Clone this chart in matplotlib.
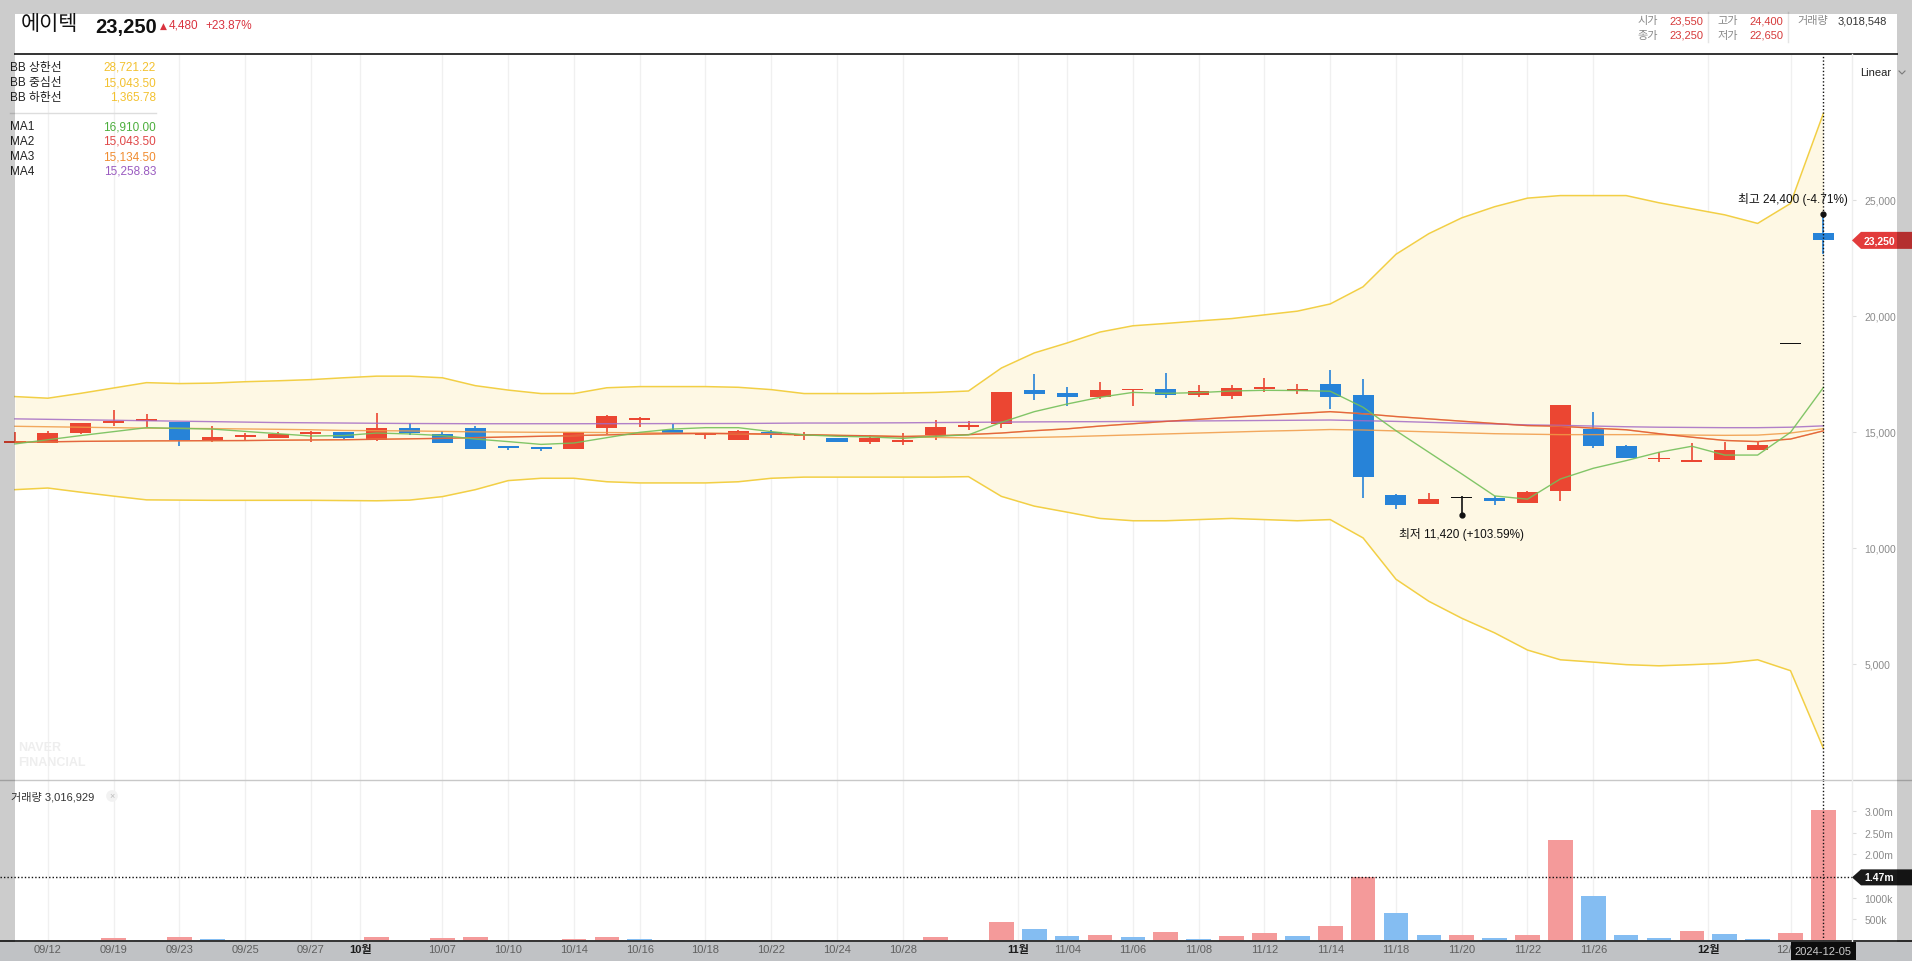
import matplotlib
matplotlib.use("Agg")
import matplotlib.pyplot as plt
from matplotlib.patches import Rectangle, Polygon
from matplotlib.lines import Line2D
import numpy as np

plt.rcParams['font.family'] = ['Liberation Sans', 'Noto Sans CJK KR', 'DejaVu Sans']

# ---- data ----
dates = ["09/11", "09/12", "09/13", "09/19", "09/20", "09/23", "09/24", "09/25", "09/26", "09/27",
         "09/30", "10/02", "10/04", "10/07", "10/08", "10/10", "10/11", "10/14", "10/15", "10/16",
         "10/17", "10/18", "10/21", "10/22", "10/23", "10/24", "10/25", "10/28", "10/29", "10/30",
         "10/31", "11/01", "11/04", "11/05", "11/06", "11/07", "11/08", "11/11", "11/12", "11/13",
         "11/14", "11/15", "11/18", "11/19", "11/20", "11/21", "11/22", "11/25", "11/26", "11/27",
         "11/28", "11/29", "12/02", "12/03", "12/04", "12/05"]

opens = [14510, 14520, 14970, 15380, 15470, 15420, 14660, 14780, 14750, 14920,
         14990, 14660, 15170, 14910, 15170, 14350, 14310, 14260, 15180, 15530,
         15100, 14860, 14660, 14980, 14810, 14750, 14580, 14580, 14850, 15220,
         15330, 16800, 16680, 16520, 16800, 16850, 16600, 16560, 16850, 16780,
         17060, 16590, 12280, 11910, 12140, 12140, 11950, 12470, 15120, 14390,
         13830, 13720, 13800, 14230, 18770, 23550]
highs = [15010, 15040, 15390, 15940, 15770, 15430, 15250, 14950, 15010, 15040,
         15000, 15810, 15380, 15020, 15250, 14410, 14360, 14980, 15740, 15640,
         15350, 14940, 15080, 15080, 14990, 14750, 14870, 14940, 15500, 15460,
         16720, 17490, 16920, 17160, 16840, 17540, 17020, 17020, 17320, 17060,
         17670, 17280, 12320, 12370, 12250, 12220, 12450, 16160, 15870, 14430,
         14120, 14520, 14560, 14550, 18770, 24400]
lows = [14500, 14500, 14920, 15270, 15200, 14380, 14550, 14660, 14740, 14550,
        14690, 14620, 14880, 14530, 14260, 14230, 14180, 14260, 14890, 15220,
        14950, 14690, 14660, 14750, 14650, 14550, 14490, 14450, 14640, 15100,
        15150, 16390, 16130, 16420, 16130, 16470, 16520, 16430, 16730, 16650,
        15990, 12170, 11680, 11910, 11420, 11860, 11950, 12040, 14290, 13860,
        13720, 13690, 13800, 14230, 18770, 22650]
closes = [14620, 14950, 15380, 15470, 15550, 14660, 14780, 14860, 14890, 14990,
          14750, 15170, 14940, 14530, 14260, 14320, 14280, 14980, 15670, 15560,
          14950, 14940, 15020, 14900, 14860, 14580, 14750, 14620, 15210, 15300,
          16720, 16650, 16520, 16800, 16840, 16600, 16760, 16890, 16890, 16810,
          16520, 13070, 11870, 12090, 12140, 12040, 12400, 16160, 14410, 13860,
          13860, 13770, 14210, 14440, 18770, 23250]
volumes = [12000, 15000, 30000, 70000, 30000, 100000, 54000, 12000, 10000, 14000,
           9000, 100000, 9000, 70000, 100000, 10000, 13000, 54000, 100000, 54000,
           31000, 12000, 14000, 16000, 31000, 12000, 10000, 31000, 100000, 15000,
           449000, 279000, 124000, 147000, 101000, 217000, 46000, 124000, 186000, 124000,
           356000, 1486000, 650000, 139000, 147000, 70000, 147000, 2345000, 1045000, 139000,
           70000, 232000, 163000, 46000, 186000, 3016929]

bb_upper = [16520, 16450, 16660, 16890, 17120, 17080, 17100, 17160, 17200, 17250,
            17330, 17400, 17400, 17330, 16990, 16800, 16650, 16650, 16900, 16950,
            16950, 16950, 16920, 16820, 16650, 16650, 16650, 16670, 16700, 16760,
            17750, 18400, 18830, 19300, 19570, 19670, 19780, 19880, 20040, 20200,
            20510, 21250, 22650, 23540, 24220, 24700, 25070, 25180, 25180, 25180,
            24870, 24610, 24350, 23980, 24840, 28721.22]
bb_lower = [12510, 12580, 12400, 12230, 12070, 12060, 12050, 12050, 12050, 12050,
            12040, 12030, 12060, 12210, 12510, 12900, 13000, 13000, 12850, 12800,
            12800, 12800, 12850, 13000, 13050, 13050, 13050, 13050, 13050, 13070,
            12220, 11800, 11540, 11270, 11170, 11170, 11220, 11270, 11220, 11170,
            11220, 10430, 8650, 7700, 6970, 6340, 5600, 5180, 5080, 4970,
            4920, 4970, 5030, 5180, 4710, 1365.78]
ma1 = [14480, 14660, 14840, 15010, 15180, 15150, 15120, 15020, 14920, 14820,
       14840, 14950, 14910, 14840, 14690, 14580, 14460, 14520, 14750, 14980,
       15120, 15180, 15180, 15010, 14870, 14810, 14780, 14720, 14810, 14870,
       15410, 15870, 16200, 16490, 16700, 16660, 16690, 16760, 16790, 16780,
       16750, 16060, 15050, 14120, 13190, 12240, 12100, 12970, 13430, 13760,
       14120, 14380, 14000, 14000, 14980, 16910.00]
ma2 = [14550, 14570, 14590, 14600, 14610, 14615, 14620, 14625, 14640, 14650,
       14660, 14680, 14700, 14720, 14750, 14780, 14810, 14840, 14870, 14900,
       14920, 14930, 14920, 14900, 14880, 14850, 14830, 14800, 14830, 14880,
       14950, 15050, 15130, 15250, 15350, 15450, 15540, 15630, 15710, 15790,
       15870, 15780, 15660, 15560, 15460, 15360, 15270, 15240, 15160, 15090,
       14920, 14770, 14630, 14580, 14690, 15043.50]
ma3 = [15240, 15220, 15200, 15180, 15160, 15150, 15140, 15125, 15110, 15090,
       15060, 15050, 15040, 15020, 15000, 14990, 14980, 14980, 14970, 14960,
       14950, 14940, 14930, 14900, 14870, 14840, 14810, 14780, 14760, 14740,
       14740, 14760, 14790, 14830, 14870, 14910, 14950, 14990, 15030, 15060,
       15100, 15080, 15040, 15000, 14960, 14920, 14900, 14880, 14880, 14880,
       14880, 14860, 14850, 14860, 14950, 15134.50]
ma4 = [15560, 15540, 15520, 15500, 15480, 15460, 15440, 15420, 15400, 15390,
       15380, 15370, 15360, 15355, 15350, 15350, 15350, 15350, 15352, 15354,
       15356, 15358, 15360, 15370, 15380, 15380, 15385, 15390, 15400, 15410,
       15420, 15430, 15435, 15440, 15450, 15460, 15470, 15480, 15490, 15500,
       15510, 15480, 15450, 15410, 15370, 15340, 15300, 15280, 15250, 15220,
       15200, 15190, 15180, 15180, 15200, 15258.83]

label_idx = [1, 3, 5, 7, 9, 13, 15, 17, 19, 21, 23, 25, 27, 32, 34, 36, 38, 40, 42, 44, 46, 48, 54]
month_pos = [10.5, 30.5, 51.5]
month_txt = ["10월", "11월", "12월"]

stock_name = "에이텍"
prev_close = 18770
open_day, high_day, low_day = 23550, 24400, 22650
day_volume = 3018548
crosshair_vol = 1.47e6

# ---- colors ----
RED = '#eb4632'
BLUE = '#2783d8'
VRED = '#f49a9a'
VBLUE = '#84bdf2'
BB_LINE = '#f2cf45'
BB_FILL = '#fef8e4'
C_MA1 = '#74c05a'
C_MA2 = '#e2513c'
C_MA3 = '#f09a45'
C_MA4 = '#a46bc4'

W, H = 1912, 962


def fx(x):
    return x / W


def fy(y):
    return 1 - y / H


fig = plt.figure(figsize=(W / 100, H / 100), dpi=100)
fig.patch.set_facecolor('white')

ax = fig.add_axes([0, fy(781), fx(1852), (781 - 55) / H])
axv = fig.add_axes([0, fy(942), fx(1852), (942 - 781) / H])

n = len(closes)
x = np.arange(n)
o = np.array(opens, float)
c = np.array(closes, float)
hi = np.array(highs, float)
lo = np.array(lows, float)
vol = np.array(volumes, float)

xlim = (-0.456, 55.87)
grid_pos = sorted(label_idx + month_pos)

# ---- price panel ----
for g in grid_pos:
    ax.axvline(g, color='#f0f0f0', lw=1, zorder=0)
ax.fill_between(x, bb_lower, bb_upper, color=BB_FILL, lw=0, zorder=1)
ax.plot(x, bb_upper, color=BB_LINE, lw=1.1, zorder=2)
ax.plot(x, bb_lower, color=BB_LINE, lw=1.1, zorder=2)

cols = np.where(c > o, RED, np.where(c < o, BLUE, '#111111'))
ax.vlines(x, lo, hi, colors=cols, lw=1.2, zorder=3)
body_h = np.maximum(np.abs(c - o), 65)
ax.bar(x, body_h, bottom=np.minimum(o, c), width=0.64, color=cols, lw=0, zorder=4)

ax.plot(x, ma2, color=BB_LINE, lw=1.0, zorder=5, alpha=0.8)
ax.plot(x, ma4, color=C_MA4, lw=1.0, zorder=5, alpha=0.85)
ax.plot(x, ma3, color=C_MA3, lw=1.0, zorder=5, alpha=0.85)
ax.plot(x, ma2, color=C_MA2, lw=1.0, zorder=5, alpha=0.85)
ax.plot(x, ma1, color=C_MA1, lw=1.0, zorder=5, alpha=0.9)

ax.set_xlim(*xlim)
ax.set_ylim(0, 31280)
ax.set_xticks([])
ax.yaxis.tick_right()
ax.set_yticks([5000, 10000, 15000, 20000, 25000])
ax.set_yticklabels([f"{v:,}" for v in [5000, 10000, 15000, 20000, 25000]])
ax.tick_params(axis='y', length=3, color='#dddddd', labelsize=7.5, labelcolor='#8a8a8a', pad=6)
for s in ax.spines.values():
    s.set_visible(False)

# high / low markers
i_hi = int(np.argmax(hi))
i_lo = int(np.argmin(lo))
last = c[-1]
ax.plot(i_hi, hi[i_hi], 'o', color='#111111', ms=3.5, zorder=7)
ax.plot(i_lo, lo[i_lo], 'o', color='#111111', ms=3.5, zorder=7)
ax.annotate(f"최고 {hi[i_hi]:,.0f} ({(last / hi[i_hi] - 1) * 100:+.2f}%)", xy=(i_hi, hi[i_hi]),
            xytext=(-22, 11), textcoords='offset points', ha='center', va='center',
            fontsize=8.5, color='#111111', zorder=8)
ax.annotate(f"최저 {lo[i_lo]:,.0f} ({(last / lo[i_lo] - 1) * 100:+.2f}%)", xy=(i_lo, lo[i_lo]),
            xytext=(0, -13), textcoords='offset points', ha='center', va='center',
            fontsize=8.5, color='#111111', zorder=8)
ax.axvline(n - 1, color='#111111', ls=(0, (1, 1.5)), lw=1, zorder=6)

# ---- volume panel ----
for g in grid_pos:
    axv.axvline(g, color='#f0f0f0', lw=1, zorder=0)
vcols = [VBLUE] + [VRED if vol[i] > vol[i - 1] else VBLUE for i in range(1, n)]
axv.bar(x, vol, width=0.75, color=vcols, lw=0, zorder=2)
axv.axhline(crosshair_vol, color='#111111', ls=(0, (1, 1.5)), lw=1, zorder=3)
axv.axvline(n - 1, color='#111111', ls=(0, (1, 1.5)), lw=1, zorder=3)
axv.set_xlim(*xlim)
axv.set_ylim(0, 3.72e6)
axv.yaxis.tick_right()
vt = [500000, 1000000, 2000000, 2500000, 3000000]
axv.set_yticks(vt)
axv.set_yticklabels(["500k", "1000k", "2.00m", "2.50m", "3.00m"])
axv.tick_params(axis='y', length=3, color='#dddddd', labelsize=7.5, labelcolor='#8a8a8a', pad=6)
for s in axv.spines.values():
    s.set_visible(False)

tick_x = list(label_idx) + month_pos
tick_l = [dates[i] for i in label_idx] + month_txt
axv.set_xticks(tick_x)
axv.set_xticklabels(tick_l)
axv.tick_params(axis='x', length=0, pad=2.5, labelsize=8, labelcolor='#777777')
for t in axv.get_xticklabels():
    if t.get_text() in month_txt:
        t.set_fontweight('bold')
        t.set_color('#222222')

# ---- frame lines ----
fig.add_artist(Line2D([fx(15), fx(1897)], [fy(55), fy(55)], color='#333333', lw=1.4))
fig.add_artist(Line2D([0, 1], [fy(781), fy(781)], color='#c8c8c8', lw=1))
fig.add_artist(Line2D([0, 1], [fy(942), fy(942)], color='#333333', lw=1.4))
fig.add_artist(Line2D([fx(1852), fx(1852)], [fy(942), fy(55)], color='#eeeeee', lw=1))
fig.add_artist(Rectangle((0, 0), 1, fy(943), transform=fig.transFigure,
                         facecolor='#f0f3f7', lw=0, zorder=-1))

# ---- header ----
fig.text(fx(21), fy(25), stock_name, fontsize=15, color='#111111', va='center')
fig.text(fx(95), fy(27), f"{last:,.0f}", fontsize=14.5, fontweight='bold', color='#111111', va='center')
chg = last - prev_close
fig.text(fx(160), fy(26), "▲", fontsize=6.5, color='#d9333f', va='center', family=['DejaVu Sans'])
fig.text(fx(169), fy(26), f"{chg:,.0f}", fontsize=8.5, color='#d9333f', va='center')
fig.text(fx(205), fy(26), f"{chg / prev_close * 100:+.2f}%", fontsize=8.5, color='#d9333f', va='center')

info = [("시가", open_day, 1637, 21), ("고가", high_day, 1717, 21),
        ("종가", last, 1637, 36), ("저가", low_day, 1717, 36)]
for lab, val, px, py in info:
    fig.text(fx(px), fy(py), lab, fontsize=8, color='#888888', va='center')
    fig.text(fx(px + 32), fy(py), f"{val:,.0f}", fontsize=8, color='#d63a3a', va='center')
fig.text(fx(1797), fy(21), "거래량", fontsize=8, color='#888888', va='center')
fig.text(fx(1838), fy(21), f"{day_volume:,}", fontsize=8, color='#333333', va='center')
for sx in (1708, 1788):
    fig.add_artist(Line2D([fx(sx), fx(sx)], [fy(43), fy(13)], color='#e5e5e5', lw=1))
fig.text(fx(1860), fy(73), "Linear", fontsize=8, color='#222222', va='center')
fig.add_artist(Line2D([fx(1899), fx(1902), fx(1905)], [fy(72), fy(75), fy(72)], color='#999999', lw=0.8))

# ---- legend ----
leg_rows = [("BB 상한선", bb_upper[-1], '#f3c12f', 68), ("BB 중심선", ma2[-1], '#f3c12f', 83),
            ("BB 하한선", bb_lower[-1], '#f3c12f', 98),
            ("MA1", ma1[-1], '#4cae3c', 127), ("MA2", ma2[-1], '#e04848', 142),
            ("MA3", ma3[-1], '#f08c30', 157), ("MA4", ma4[-1], '#9a5bc0', 172)]
for lab, val, col, py in leg_rows:
    fig.text(fx(10), fy(py), lab, fontsize=8.5, color='#222222', va='center', zorder=30)
    fig.text(fx(156), fy(py), f"{val:,.2f}", fontsize=8.5, color=col, va='center', ha='right', zorder=30)
fig.add_artist(Line2D([fx(10), fx(156)], [fy(114), fy(114)], color='#dddddd', lw=1, zorder=30))

fig.text(fx(18), fy(748), "NAVER", fontsize=9, fontweight='heavy', color='#eeeeee', va='center')
fig.text(fx(18), fy(763), "FINANCIAL", fontsize=9, fontweight='heavy', color='#eeeeee', va='center')

fig.text(fx(11), fy(797), f"거래량 {vol[-1]:,.0f}", fontsize=8, color='#333333', va='center')
fig.text(fx(112), fy(797), "×", fontsize=6.5, color='#bbbbbb', va='center', ha='center',
         bbox=dict(boxstyle='circle,pad=0.15', fc='#f2f2f2', ec='none'))

# ---- right side value tags ----
yp = ax.transData.transform((0, last))[1]
yp = H - yp
fig.add_artist(Polygon([(fx(1852), fy(yp)), (fx(1861), fy(yp - 8.5)), (fx(1912), fy(yp - 8.5)),
                        (fx(1912), fy(yp + 8.5)), (fx(1861), fy(yp + 8.5))],
                       closed=True, transform=fig.transFigure, fc='#e23b3b', ec='none', zorder=6))
fig.text(fx(1864), fy(yp), f"{last:,.0f}", fontsize=7.5, fontweight='bold', color='white',
         va='center', zorder=7)

yv = H - axv.transData.transform((0, crosshair_vol))[1]
fig.add_artist(Polygon([(fx(1852), fy(yv)), (fx(1861), fy(yv - 8)), (fx(1912), fy(yv - 8)),
                        (fx(1912), fy(yv + 8)), (fx(1861), fy(yv + 8))],
                       closed=True, transform=fig.transFigure, fc='#1a1a1a', ec='none', zorder=6))
fig.text(fx(1864), fy(yv), f"{crosshair_vol / 1e6:.2f}m", fontsize=7.5, fontweight='bold',
         color='white', va='center', zorder=7)

xd = fig.transFigure.inverted().transform(axv.transData.transform((n - 1, 0)))[0]
fig.text(xd, fy(952), "2024-12-05", fontsize=8, color='white', ha='center', va='center', zorder=8,
         bbox=dict(boxstyle='square,pad=0.35', fc='#111111', ec='none'))

# ---- dimmed frame overlay ----
for rx, ry, rw, rh in [(0, 0, 15, H), (15, 0, 1882, 15), (1897, 0, 15, H), (15, 943, 1882, 19)]:
    fig.add_artist(Rectangle((fx(rx), fy(ry + rh)), rw / W, rh / H, transform=fig.transFigure,
                             facecolor='black', alpha=0.2, lw=0, zorder=50))

fig.savefig("out.png", dpi=100)
